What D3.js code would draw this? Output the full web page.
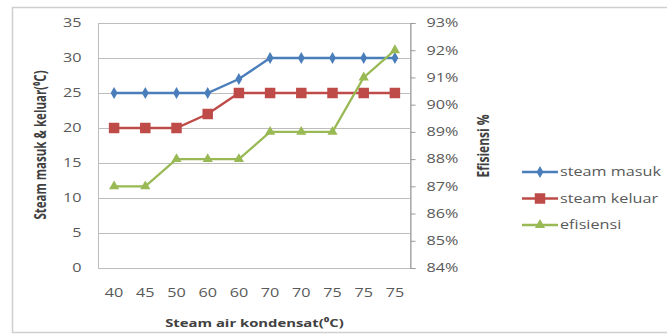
<!DOCTYPE html>
<html>
<head>
<meta charset="utf-8">
<script src="https://cdn.jsdelivr.net/npm/d3@7"></script>
<style>
  html, body { margin: 0; padding: 0; background: #fff; }
  svg { display: block; }
  text { font-family: "Open Sans", "Liberation Sans", sans-serif; }
</style>
</head>
<body>
<svg id="chart" width="667" height="335"></svg>
<script>
// Categories along the x axis (condensate temperature, °C)
const categories = ["40", "45", "50", "60", "60", "70", "70", "75", "75", "75"];
// Steam temperatures (°C), left axis
const steamMasuk = [25, 25, 25, 25, 27, 30, 30, 30, 30, 30];
const steamKeluar = [20, 20, 20, 22, 25, 25, 25, 25, 25, 25];
// Efficiency (fraction), right axis
const efisiensi = [0.87, 0.87, 0.88, 0.88, 0.88, 0.89, 0.89, 0.89, 0.91, 0.92];
// Tick values
const leftTicks = [0, 5, 10, 15, 20, 25, 30, 35];
const rightTicks = [0.84, 0.85, 0.86, 0.87, 0.88, 0.89, 0.90, 0.91, 0.92, 0.93];

const svg = d3.select("#chart");
const plot = { left: 98.5, right: 410.5, top: 23, bottom: 268 };
const textColor = "#595959";
const titleColor = "#404040";
// Text is drawn horizontally widened
const K = 1.35;

// Widen axis labels horizontally while keeping their anchor position
function widen(sel) {
  sel.each(function () {
    const t = d3.select(this);
    const x0 = +t.attr("x") || 0;
    t.attr("x", x0 / K).attr("transform", `scale(${K},1)`);
  });
}

// Outer chart frame
svg.append("rect")
  .attr("x", 12.5).attr("y", 7.5).attr("width", 670).attr("height", 325)
  .attr("fill", "#fff").attr("stroke", "#cfcfcf").attr("stroke-width", 1.5);

const x = d3.scaleBand().domain(d3.range(categories.length))
  .range([plot.left, plot.right]).paddingInner(0).paddingOuter(0);
const yL = d3.scaleLinear().domain([0, 35]).range([plot.bottom, plot.top]);
const yR = d3.scaleLinear().domain([0.84, 0.93]).range([plot.bottom, plot.top]);
const cx = i => x(i) + x.bandwidth() / 2;

// Horizontal gridlines
svg.append("g").selectAll("line").data(leftTicks).join("line")
  .attr("x1", plot.left).attr("x2", plot.right)
  .attr("y1", d => Math.round(yL(d)) + 0.5).attr("y2", d => Math.round(yL(d)) + 0.5)
  .attr("stroke", "#bdbdbd").attr("stroke-width", 1);

// Plot area border
svg.append("rect")
  .attr("x", plot.left).attr("y", plot.top + 0.5)
  .attr("width", plot.right - plot.left).attr("height", plot.bottom - plot.top)
  .attr("fill", "none").attr("stroke", "#bdbdbd");

// Left axis labels
const leftAxis = d3.axisLeft(yL).tickValues(leftTicks).tickSize(0).tickPadding(17);
const gL = svg.append("g").attr("transform", `translate(${plot.left},0)`).call(leftAxis);
gL.select(".domain").remove();
gL.selectAll("text").attr("fill", textColor).style("font-size", "12px").call(widen);

// Right axis with outward ticks
const rightAxis = d3.axisRight(yR).tickValues(rightTicks).tickSize(5).tickPadding(11)
  .tickFormat(d3.format(".0%"));
const gR = svg.append("g").attr("transform", `translate(${plot.right},0)`).call(rightAxis);
gR.select(".domain").attr("stroke", "#9a9a9a");
gR.selectAll(".tick line").attr("stroke", "#9a9a9a");
gR.selectAll("text").attr("fill", textColor).style("font-size", "12px").call(widen);

// Bottom axis labels
const bottomAxis = d3.axisBottom(x).tickFormat(i => categories[i]).tickSize(0).tickPadding(20);
const gB = svg.append("g").attr("transform", `translate(0,${plot.bottom})`).call(bottomAxis);
gB.select(".domain").remove();
gB.selectAll("text").attr("fill", textColor).style("font-size", "12px")
  .attr("transform", `scale(${K},1)`);

// Axis titles
svg.append("text")
  .attr("transform", `translate(46,145) scale(${K},1) rotate(-90)`)
  .attr("text-anchor", "middle").attr("fill", titleColor)
  .style("font-size", "11.5px").style("font-weight", "bold")
  .text("Steam masuk & keluar(⁰C)");
svg.append("text")
  .attr("transform", `translate(489,146) scale(${K},1) rotate(-90)`)
  .attr("text-anchor", "middle").attr("fill", titleColor)
  .style("font-size", "12px").style("font-weight", "bold")
  .text("Efisiensi %");
svg.append("text")
  .attr("transform", `translate(${(plot.left + plot.right) / 2},327) scale(${K},1)`)
  .attr("text-anchor", "middle").attr("fill", titleColor)
  .style("font-size", "11px").style("font-weight", "bold")
  .text("Steam air kondensat(⁰C)");

const series = [
  { name: "steam masuk", values: steamMasuk, scale: yL, color: "#4a7ebb", marker: "diamond" },
  { name: "steam keluar", values: steamKeluar, scale: yL, color: "#be4b48", marker: "square" },
  { name: "efisiensi", values: efisiensi, scale: yR, color: "#98b954", marker: "triangle" }
];

const symbolFor = m => m === "diamond" ? d3.symbol(d3.symbolDiamond, 40)
  : m === "square" ? d3.symbol(d3.symbolSquare, 110)
  : d3.symbol(d3.symbolTriangle, 45);

series.forEach(s => {
  const line = d3.line().x((d, i) => cx(i)).y(d => s.scale(d));
  svg.append("path").datum(s.values)
    .attr("d", line).attr("fill", "none")
    .attr("stroke", s.color).attr("stroke-width", 2.3);
  svg.append("g").selectAll("path").data(s.values).join("path")
    .attr("transform", (d, i) => `translate(${cx(i)},${s.scale(d)})`)
    .attr("d", symbolFor(s.marker))
    .attr("fill", s.color);
});

// Legend
const legend = svg.append("g").attr("transform", "translate(522,172)");
series.forEach((s, i) => {
  const g = legend.append("g").attr("transform", `translate(0,${i * 26.5})`);
  g.append("line").attr("x1", 0).attr("x2", 36).attr("y1", 0).attr("y2", 0)
    .attr("stroke", s.color).attr("stroke-width", 2.3);
  g.append("path").attr("transform", "translate(18,0)")
    .attr("d", symbolFor(s.marker)).attr("fill", s.color);
  g.append("text").attr("transform", `translate(38,4) scale(${K},1)`)
    .attr("fill", textColor).style("font-size", "12px").text(s.name);
});
</script>
</body>
</html>
